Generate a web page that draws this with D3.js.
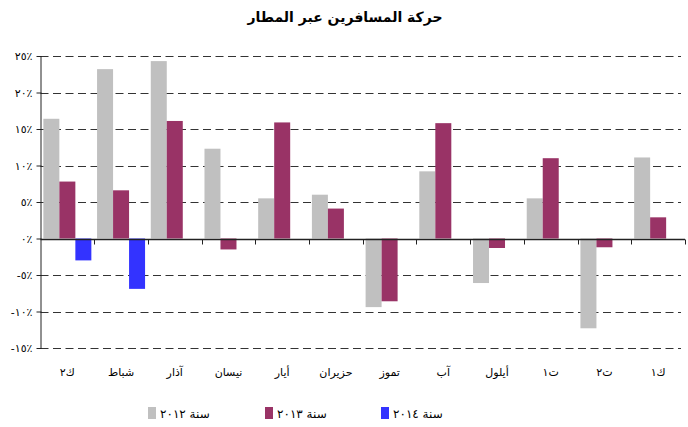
<!DOCTYPE html>
<html>
<head>
<meta charset="utf-8">
<script src="https://cdn.jsdelivr.net/npm/d3@7"></script>
<style>
  body { margin: 0; background: #fff; }
  svg { display: block; font-family: "DejaVu Sans", "Liberation Sans", sans-serif; }
</style>
</head>
<body>
<div class="chart"></div>
<script>
// Parameters
const width = 688;
const height = 427;
const margin = { top: 56, right: 3, bottom: 79, left: 40.5 };

// Data
const months = ['ك٢', 'شباط', 'آذار', 'نيسان', 'أيار', 'حزيران', 'تموز', 'آب', 'أيلول', 'ت١', 'ت٢', 'ك١'];
const series = ['سنة ٢٠١٢', 'سنة ٢٠١٣', 'سنة ٢٠١٤'];
const values2012 = [16.4, 23.2, 24.3, 12.3, 5.5, 6.0, -9.4, 9.2, -6.1, 5.5, -12.3, 11.1];
const values2013 = [7.8, 6.6, 16.1, -1.5, 15.9, 4.1, -8.6, 15.8, -1.3, 11.0, -1.2, 2.9];
const values2014 = [-3.0, -6.9, null, null, null, null, null, null, null, null, null, null];
const yTicks = [-15, -10, -5, 0, 5, 10, 15, 20, 25];
const yTickLabels = ['-١٥٪', '-١٠٪', '-٥٪', '٠٪', '٥٪', '١٠٪', '١٥٪', '٢٠٪', '٢٥٪'];
const colors = ['#c0c0c0', '#993366', '#3333ff'];

const allValues = [values2012, values2013, values2014];

const svg = d3.select('.chart')
    .append('svg')
    .attr('width', width)
    .attr('height', height);

// title
svg.append('text')
    .attr('x', 345)
    .attr('y', 22)
    .attr('text-anchor', 'middle')
    .style('font-size', '14px')
    .style('font-weight', 'bold')
    .text('حركة المسافرين عبر المطار');

// scales
const scaleX = d3.scaleBand()
    .domain(months)
    .range([margin.left, width - margin.right]);

const scaleSeries = d3.scaleBand()
    .domain(series)
    .range([0, 48]);

const scaleY = d3.scaleLinear()
    .domain([-15, 25])
    .range([height - margin.bottom, margin.top]);

// dashed gridlines
svg.append('g')
    .selectAll('line')
    .data(yTicks.filter(d => d !== 0))
    .join('line')
    .attr('x1', margin.left)
    .attr('x2', width - margin.right - 4)
    .attr('y1', d => Math.round(scaleY(d)) + 0.5)
    .attr('y2', d => Math.round(scaleY(d)) + 0.5)
    .attr('stroke', '#333')
    .attr('stroke-width', 1)
    .attr('stroke-dasharray', '8,4.5');

// bars
const groupOffset = (scaleX.bandwidth() - 48) / 2;
const bars = [];
allValues.forEach((vals, si) => {
    vals.forEach((v, mi) => {
        if (v !== null) bars.push({ month: months[mi], serie: series[si], value: v, color: colors[si] });
    });
});

svg.append('g')
    .selectAll('rect')
    .data(bars)
    .join('rect')
    .attr('x', d => scaleX(d.month) + groupOffset + scaleSeries(d.serie))
    .attr('width', scaleSeries.bandwidth())
    .attr('y', d => scaleY(Math.max(0, d.value)))
    .attr('height', d => Math.abs(scaleY(d.value) - scaleY(0)))
    .style('fill', d => d.color);

// zero line with category ticks
const zeroY = Math.round(scaleY(0)) + 0.5;
const zeroAxis = svg.append('g')
    .attr('transform', `translate(0, ${zeroY})`);

zeroAxis.append('line')
    .attr('x1', margin.left)
    .attr('x2', width - margin.right)
    .attr('stroke', '#222')
    .attr('stroke-width', 1.5);

zeroAxis.selectAll('.ctick')
    .data(months.map(m => scaleX(m)).concat([width - margin.right]).slice(1))
    .join('line')
    .attr('class', 'ctick')
    .attr('x1', d => Math.round(d) + 0.5)
    .attr('x2', d => Math.round(d) + 0.5)
    .attr('y1', 0)
    .attr('y2', 5)
    .attr('stroke', '#222');

// y axis
const yAxis = svg.append('g')
    .attr('transform', `translate(${margin.left}, 0)`)
    .call(d3.axisLeft(scaleY)
        .tickValues(yTicks)
        .tickSize(4)
        .tickFormat((d, i) => yTickLabels[i]));

yAxis.select('.domain').attr('stroke', '#222').attr('d', `M0.5,${scaleY(25)}V${scaleY(-15)}`);
yAxis.selectAll('.tick line').attr('stroke', '#222').attr('x2', -4).attr('x1', 1);
yAxis.selectAll('.tick text')
    .attr('x', -8)
    .style('font-size', '11px')
    .style('font-family', '"DejaVu Sans", sans-serif')
    .attr('fill', '#000');

// month labels
svg.append('g')
    .selectAll('text')
    .data(months)
    .join('text')
    .attr('x', d => scaleX(d) + scaleX.bandwidth() / 2)
    .attr('y', 376)
    .attr('text-anchor', 'middle')
    .style('font-size', '11px')
    .text(d => d);

// legend
const legendX = [148, 265, 381];
const legend = svg.append('g')
    .selectAll('g')
    .data(series)
    .join('g')
    .attr('transform', (d, i) => `translate(${legendX[i]}, 0)`);

legend.append('rect')
    .attr('x', 0)
    .attr('y', 407)
    .attr('width', 8)
    .attr('height', 12)
    .style('fill', (d, i) => colors[i]);

legend.append('text')
    .attr('x', 12)
    .attr('y', 418)
    .style('font-size', '12px')
    .text(d => d);
</script>
</body>
</html>
